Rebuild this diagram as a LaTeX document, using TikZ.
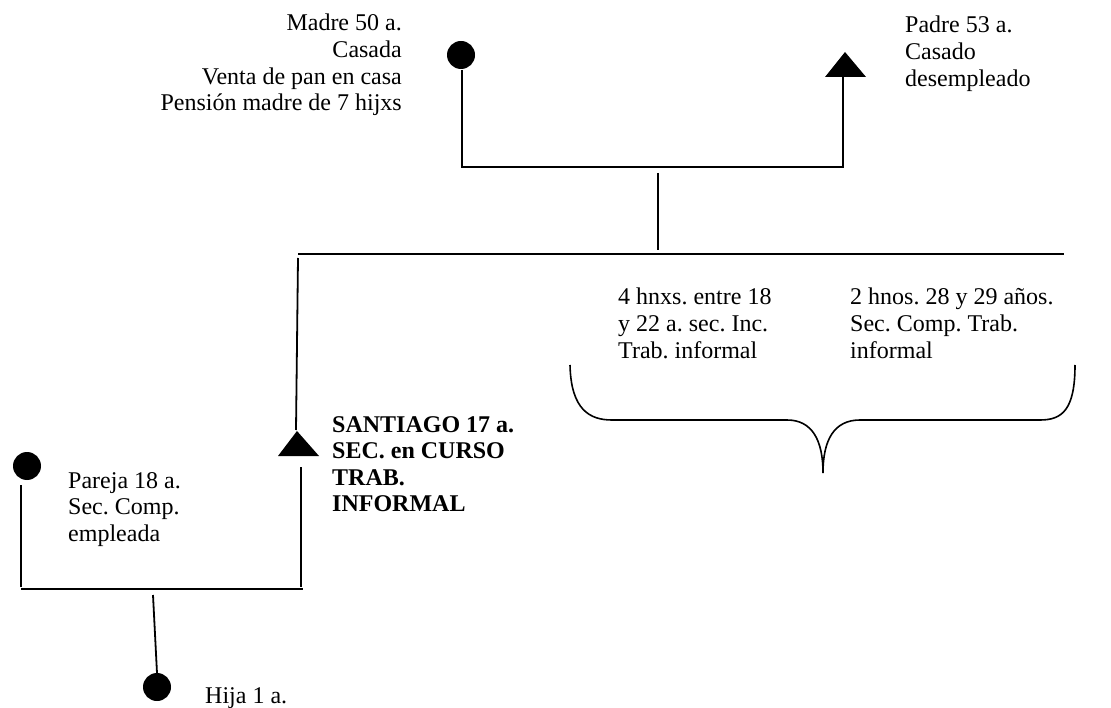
\documentclass[tikz,border=0pt]{standalone}
\usepackage{fontspec}
\setmainfont{Liberation Serif}
\frenchspacing
\begin{document}
\begin{tikzpicture}[x=1pt,y=-1pt,
  line/.style={line width=1.8pt},
  fem/.style={circle,fill=black,minimum size=28pt,inner sep=0pt},
  lbl/.style={inner sep=0pt,font=\fontsize{24}{26.6}\selectfont},
  lblL/.style={lbl,align=left,anchor=north west},
  lblR/.style={lbl,align=right,anchor=north east}]
\useasboundingbox (0,0) rectangle (1111,708);
% persons
\node[fem] (madre) at (461,55) {};
\coordinate (padre) at (845,52);
\fill (padre) -- ++(-20,25) -- ++(41,0) -- cycle;
\coordinate (padreb) at (843,77);
\coordinate (santiago) at (297,431);
\fill (santiago) -- ++(-19,25) -- ++(41,0) -- cycle;
\coordinate (santiagob) at (301,467);
\node[fem] (pareja) at (27,466) {};
\node[fem] (hija) at (157,687) {};
% junctions
\coordinate (m1) at (462,70);
\coordinate (m2) at (462,167);
\coordinate (p2) at (843,167);
\coordinate (c1) at (658,173);
\coordinate (c2) at (658,250);
\coordinate (h1) at (298,254);
\coordinate (h2) at (1064,254);
\coordinate (s1) at (298,258);
\coordinate (s2) at (296,430);
\coordinate (s3) at (301,587);
\coordinate (b1) at (21,589);
\coordinate (b2) at (303,589);
\coordinate (pa1) at (21,485);
\coordinate (pa2) at (21,587);
\coordinate (k1) at (153,595);
\coordinate (k2) at (157,673);
% lines
\draw[line] (m1) -- (m2) -- (p2) -- (padreb);
\draw[line] (c1) -- (c2);
\draw[line] (h1) -- (h2);
\draw[line] (s1) -- (s2);
\draw[line] (santiagob) -- (s3);
\draw[line] (b1) -- (b2);
\draw[line] (pa1) -- (pa2);
\draw[line] (k1) -- (k2);
% brace
\draw[line width=1.6pt] (570,365) .. controls (571,410) and (590,420) .. (612,420) -- (787,420)
  .. controls (812,420) and (823,440) .. (823,473)
  .. controls (823,440) and (834,420) .. (860,420) -- (1040,420)
  .. controls (1062,420) and (1075,410) .. (1075,365);
% labels
\node[lblR] (tmadre) at (402,14) {Madre 50 a.\\Casada\\Venta de pan en casa\\Pensión madre de 7 hijxs};
\node[lblL] (tpadre) at (905,16) {Padre 53 a.\\Casado\\desempleado};
\node[lblL] (th1) at (618,288) {4 hnxs. entre 18\\y 22 a. sec. Inc.\\Trab. informal};
\node[lblL] (th2) at (850,288) {2 hnos. 28 y 29 años.\\Sec. Comp. Trab.\\informal};
\node[lblL,font=\fontsize{24}{26.6}\selectfont\bfseries] (tsant) at (332,416) {SANTIAGO 17 a.\\SEC. en CURSO\\TRAB.\\INFORMAL};
\node[lblL] (tpareja) at (68,472) {Pareja 18 a.\\Sec. Comp.\\empleada};
\node[lblL] (thija) at (205,687) {Hija 1 a.};
\end{tikzpicture}
\end{document}
